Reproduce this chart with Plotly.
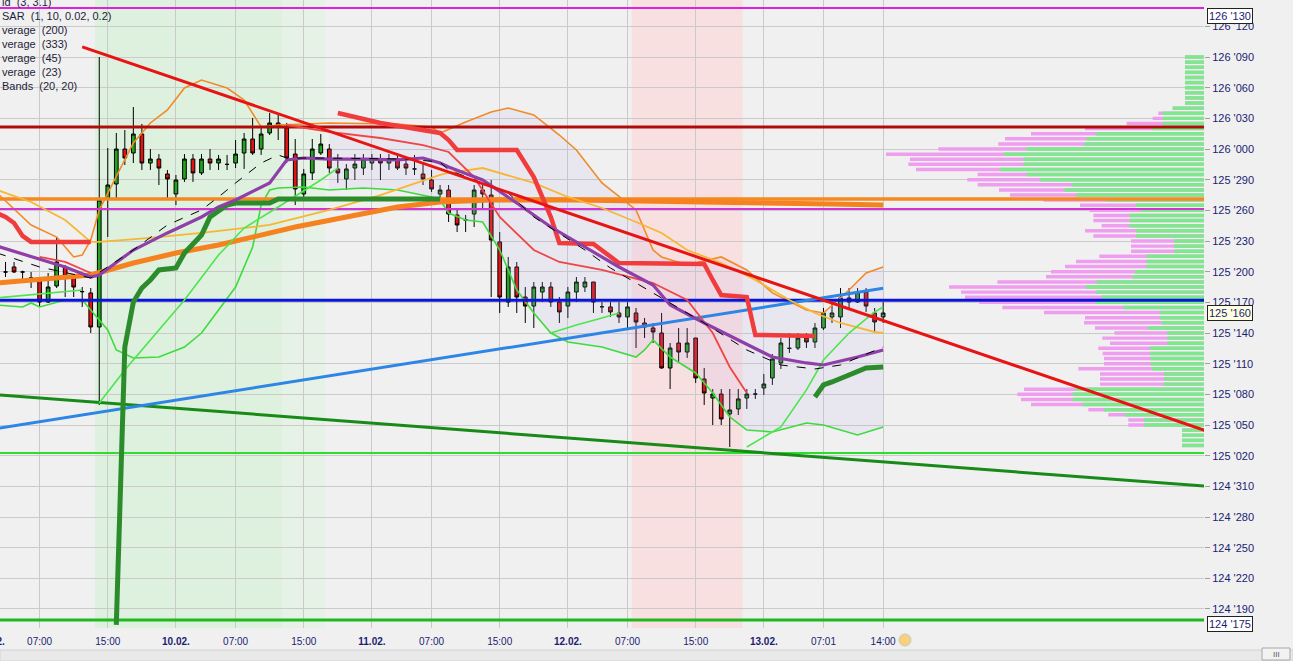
import plotly.graph_objects as go

# ---------------- DATA ----------------
# prices are expressed in 32nds above 124'000  (e.g. 49.0 -> 125'170)
bar = list(range(3, 107))
open_ = [51.97, 52.46, 51.97, 51.4, 51.38, 49.03, 50.60, 52.46, 51.48, 50.05, 49.92, 46.59, 59.11, 60.58,
         64.00, 63.61, 65.47, 62.63, 63.02, 61.56, 59.60, 61.07, 63.02, 61.66, 63.02, 62.63, 62.50, 62.63,
         63.61, 64.98, 64.00, 65.57, 66.55, 66.06, 63.51, 59.60, 61.66, 63.61, 64.00, 62.05, 61.07, 62.14,
         62.14, 62.63, 63.02, 62.63, 63.02, 62.53, 62.05, 61.56, 60.97, 59.60, 59.99, 57.55, 57.06, 57.64,
         59.99, 59.50, 54.91, 49.03, 52.46, 49.52, 48.64, 50.01, 50.50, 49.03, 48.64, 50.01, 50.50, 50.99,
         48.57, 48.55, 47.96, 47.57, 47.96, 46.98, 46.49, 46.00, 42.58, 45.02, 44.14, 45.51, 41.50, 39.64,
         40.03, 38.08, 38.57, 39.64, 40.03, 40.62, 41.60, 43.07, 44.50, 44.53, 45.51, 45.12, 46.49, 47.57,
         47.57, 49.03, 49.03, 50.01, 47.96, 47.57]
high = [52.95, 52.95, 52.10, 51.97, 51.48, 51.87, 55.39, 52.66, 51.68, 50.50, 50.40, 73.00, 64.10, 65.57,
        65.86, 68.11, 66.45, 64.00, 63.51, 61.95, 61.46, 63.51, 63.51, 63.51, 64.00, 63.42, 63.42, 64.88,
        65.57, 67.04, 66.06, 67.53, 67.33, 66.55, 64.98, 62.05, 64.98, 65.47, 64.49, 63.51, 62.53, 63.51,
        63.51, 63.51, 63.51, 63.51, 63.51, 63.02, 63.42, 62.53, 61.95, 60.48, 60.48, 58.04, 57.55, 60.48,
        60.48, 60.97, 55.88, 53.44, 52.95, 50.50, 50.99, 50.99, 50.99, 49.52, 50.50, 51.48, 51.48, 50.99,
        49.03, 49.03, 49.03, 49.03, 48.45, 47.47, 46.98, 47.96, 45.02, 46.49, 46.49, 45.51, 42.58, 40.52,
        40.52, 40.52, 40.52, 40.52, 40.52, 41.99, 43.95, 45.51, 46.00, 46.00, 46.00, 46.98, 48.45, 48.94,
        50.40, 50.40, 50.40, 50.40, 48.45, 49.03]
low = [51.48, 51.87, 50.89, 50.40, 48.55, 48.94, 50.40, 49.52, 49.52, 48.55, 46.00, 38.96, 55.39, 59.01,
       62.44, 62.63, 61.95, 61.95, 60.48, 59.01, 58.52, 60.78, 60.78, 61.46, 61.95, 61.95, 61.95, 62.14,
       62.05, 63.42, 63.42, 65.37, 64.88, 62.63, 58.52, 59.31, 60.97, 63.42, 61.66, 60.68, 59.99, 60.97,
       61.46, 61.95, 60.97, 61.95, 61.95, 61.46, 61.46, 60.48, 59.80, 59.01, 56.86, 55.88, 55.88, 56.37,
       58.04, 49.52, 47.96, 48.55, 47.96, 46.98, 46.49, 49.03, 48.55, 46.98, 47.47, 49.03, 50.01, 47.96,
       47.96, 47.57, 46.98, 46.49, 44.53, 45.51, 45.02, 42.50, 40.52, 43.07, 43.56, 41.11, 38.96, 37.00,
       37.00, 34.85, 37.98, 38.57, 39.55, 39.94, 40.92, 42.48, 44.05, 44.34, 44.53, 44.53, 46.29, 46.98,
       46.49, 48.45, 48.94, 48.06, 46.00, 46.98]
close = [51.97, 51.97, 51.97, 51.4, 49.03, 50.50, 52.95, 51.58, 50.50, 50.05, 46.59, 59.01, 60.48, 64.00,
         63.12, 65.47, 62.63, 63.02, 62.14, 61.07, 60.97, 63.02, 61.66, 63.02, 62.63, 63.02, 62.50, 63.51,
         64.98, 63.61, 65.47, 66.55, 66.16, 63.12, 60.09, 61.56, 64.00, 64.49, 62.14, 61.66, 62.05, 62.53,
         63.02, 63.02, 62.63, 63.02, 62.14, 62.14, 62.05, 61.07, 60.09, 59.99, 57.64, 56.57, 57.06, 59.99,
         59.60, 55.10, 49.52, 52.46, 49.52, 48.64, 50.50, 50.50, 49.03, 48.06, 50.01, 50.99, 50.99, 49.03,
         48.57, 48.06, 47.57, 48.55, 47.08, 46.59, 46.10, 42.58, 44.53, 44.14, 45.02, 41.60, 40.13, 40.03,
         37.59, 38.47, 39.55, 40.03, 40.03, 41.01, 43.46, 45.02, 44.50, 45.51, 45.12, 46.49, 47.96, 47.96,
         49.43, 49.43, 50.01, 48.64, 47.08, 47.96]

# moving averages / bands / stops (bar index, value); None breaks a line
purple_n = [2, 6, 10, 13, 14, 18, 22, 26, 28, 30, 34, 36, 38, 41, 45, 49, 52, 54, 55, 59, 63, 67, 71, 75,
            79, 81, 85, 89, 93, 97, 99, 103, 106]
purple_v = [54.5, 53.44, 52.46, 51.48, 51.68, 54.12, 55.79, 57.35, 58.33, 59.01, 60.68, 62.93, 63.12, 63.02,
            63.02, 62.93, 63.12, 62.63, 62.24, 60.97, 58.72, 56.37, 54.42, 52.46, 50.70, 48.74, 46.98, 45.32,
            43.65, 43.07, 42.87, 43.65, 44.34]
dash_n = [2, 7, 13, 18, 22, 26, 28, 30, 33, 35, 36, 40, 50, 54, 55, 62, 65, 71, 74, 79, 85, 90, 94, 98, 101, 106]
dash_v = [53.83, 52.46, 51.38, 54.12, 56.57, 58.04, 59.31, 60.68, 62.63, 63.42, 63.12, 63.12, 63.02, 62.73,
          61.95, 59.70, 57.35, 54.12, 52.36, 49.92, 46.98, 44.34, 42.87, 42.48, 42.87, 44.63]
gold_n = [2, 6, 10, 13, 14, 20, 26, 34, 41, 47, 54, 55, 59, 61, 65, 69, 73, 77, 80, 83, 87, 91, 95, 98, 101,
          105, 106]
gold_v = [59.99, 58.82, 57.06, 54.91, 54.91, 55.30, 55.79, 56.57, 58.04, 59.50, 61.46, 61.66, 62.14, 61.66,
          60.68, 59.31, 58.23, 56.86, 55.79, 54.12, 52.85, 51.19, 49.23, 47.96, 46.98, 46.10, 46.00]
bbu_n = [2, 6, 9, 11, 12, 13, 14, 16, 18, 20, 22, 24, 26, 29, 31, 33, 35, 41, 49, 53, 54, 57, 60, 62, 65, 68,
         70, 73, 77, 79, 80, 83, 87, 90, 93, 97, 99, 102, 104, 106]
bbu_v = [59.70, 56.57, 55.39, 53.44, 53.63, 55.10, 58.04, 61.26, 64.59, 66.55, 67.82, 69.97, 70.75, 69.97,
         68.80, 66.16, 66.35, 66.55, 66.45, 66.16, 65.57, 66.65, 67.62, 68.01, 67.33, 65.37, 63.91, 60.68,
         58.04, 54.12, 53.44, 52.66, 53.44, 52.17, 49.92, 48.25, 47.96, 50.21, 51.87, 52.46]
bbl_n = [2, 5, 6, 7, 10, 12, 13, 15, 16, 18, 21, 24, 26, 28, 30, 32, 33, 34, 35, 38, 41, 45, 49, 53, 54, 55,
         57, 59, 61, 63, 65, 67, 69, 73, 77, 78, 79, 81, 84, 86, 88, 90, 93, 97, 99, 103, 106]
bbl_v = [48.74, 48.55, 48.94, 48.55, 49.23, 49.23, 48.25, 46.29, 44.34, 43.56, 43.65, 44.63, 46.00, 48.25,
         50.50, 54.42, 58.52, 59.99, 60.19, 60.29, 59.99, 60.19, 59.99, 59.31, 59.01, 57.74, 57.06, 56.86,
         54.12, 50.21, 47.96, 46.00, 45.12, 44.63, 43.65, 44.34, 45.32, 43.65, 42.09, 40.13, 37.79, 36.51,
         36.32, 37.20, 37.00, 36.02, 36.81]
band_fill_from = 41      # the band tint is visible from this bar on
sarg_n = [2, 6, 10, 12, None, 14, 17, 21, 24, 28, 31, 35, 40, 42, None, 67, 70, 73, 75, None,
          90, 94, 97, 99, 102, 105, 106]
sarg_v = [49.43, 49.72, 50.01, 50.21, None, 39.16, 42.38, 46.29, 49.23, 53.63, 56.27, 58.33, 60.97, 62.14, None,
          46.00, 46.79, 47.47, 47.96, None, 34.85, 36.81, 40.43, 43.36, 46.00, 48.06, 48.55]
red_n = [7, 10, 13, None, 36, 41, 47, 52, 55, 58, 61, 65, 68, 73, 79, 83, 86, 88, 90]
red_v = [53.44, 52.95, 51.87, None, 66.35, 65.67, 65.08, 64.39, 63.71, 61.26, 57.35, 54.12, 52.95, 52.17,
         50.89, 49.23, 46.00, 42.68, 40.13]
stop_n = [2, 3, 4, 5, 6, 13, None, 42, 47, 54, 55, 56, 63, 65, 66, 67, 68, 72, 75, 85, 86, 87, 90, 91, 98]
stop_v = [57.74, 57.35, 56.76, 55.5, 54.91, 54.91, None, 67.53, 66.55, 65.57, 64.88, 63.91, 63.91, 61.26,
          59.31, 57.35, 54.81, 54.71, 52.85, 52.75, 51.19, 49.72, 49.52, 45.81, 45.71]
dgs_n = [16, 17, 18, 19, 20, 21, 23, 24, 26, 27, 29, 30, 34, 35, 54, None, 98, 99, 100, 101, 102, 104, 105, 106]
dgs_v = [17.44, 44.62, 49.03, 50.40, 51.19, 52.17, 52.36, 53.83, 55.59, 57.35, 58.52, 58.72, 58.72, 59.11,
         59.11, None, 39.74, 40.92, 41.21, 41.60, 41.89, 42.58, 42.68, 42.68]
ma_n = [2, 13, 18, 23, 28, 33, 37, 43, 49, 54, 60, 70, 80, 90, 100, 106]
ma_v = [50.89, 51.68, 52.85, 53.83, 54.61, 55.59, 56.37, 57.35, 58.33, 58.82, 59.01, 59.01, 58.91, 58.82,
        58.62, 58.52]

# straight trend lines (bar index, value)
trend_red_n, trend_red_v = [12, 144], [74.0, 36.4]
trend_dg_n, trend_dg_v = [2, 144], [39.96, 31.0]
trend_blue_n, trend_blue_v = [2, 106], [36.66, 50.37]

# horizontal levels
hl_vals = [77.8, 66.15, 59.11, 58.13, 49.2, 34.26, 17.93]
hl_cols = ['#E020E0', '#B00C0C', '#F5881E', '#D433D4', '#0A14D8', '#2EDD2E', '#1FB81F']
hl_wids = [2, 3, 3.5, 2, 3, 2, 3]

# session shading (first bar, last bar)
zones = [(14, 35, 'rgba(222,240,222,1)'), (36, 40, 'rgba(230,242,230,1)'), (77, 89, 'rgba(248,224,224,1)')]

# volume profile rows (price in 32nds above 124'000), volumes
prof_price = [73.0, 72.5, 72.0, 71.5, 71.0, 70.5, 70.0, 69.5, 69.0, 68.5, 68.0, 67.5, 67.0, 66.5, 66.0,
              65.5, 65.0, 64.5, 64.0, 63.5, 63.0, 62.5, 62.0, 61.5, 61.0, 60.5, 60.0, 59.5, 59.0, 58.5,
              58.0, 57.5, 57.0, 56.5, 56.0, 55.5, 55.0, 54.5, 54.0, 53.5, 53.0, 52.5, 52.0, 51.5, 51.0,
              50.5, 50.0, 49.5, 49.0, 48.5, 48.0, 47.5, 47.0, 46.5, 46.0, 45.5, 45.0, 44.5, 44.0, 43.5,
              43.0, 42.5, 42.0, 41.5, 41.0, 40.5, 40.0, 39.5, 39.0, 38.5, 38.0, 37.5, 37.0, 36.5, 36.0,
              35.5, 35.0]
prof_green = [57, 57, 57, 57, 57, 57, 57, 57, 57, 57, 94, 124, 124, 124, 157, 324, 352, 360, 534, 600, 542,
              542, 612, 532, 492, 397, 419, 382, 292, 204, 192, 224, 222, 224, 204, 204, 90, 90, 90, 172,
              172, 174, 207, 214, 322, 354, 324, 307, 327, 242, 132, 132, 127, 167, 110, 110, 110, 162, 162,
              160, 160, 157, 120, 120, 120, 387, 394, 394, 364, 300, 237, 180, 180, 66, 66, 66, 66]
prof_total = [57, 57, 57, 57, 57, 57, 57, 57, 57, 57, 94, 137, 154, 232, 357, 519, 597, 617, 797, 954, 882,
              887, 864, 679, 710, 679, 615, 582, 482, 372, 344, 332, 332, 307, 357, 332, 219, 219, 219, 314,
              384, 417, 459, 474, 620, 765, 729, 717, 675, 605, 480, 357, 360, 327, 269, 305, 282, 317, 304,
              300, 300, 377, 312, 312, 312, 540, 560, 549, 519, 347, 287, 227, 227, 66, 66, 66, 66]

# axis ticks
x_tickvals = [7, 15, 23, 30, 38, 46, 53, 61, 69, 76, 84, 92, 99, 106]
x_ticktext = ['07:00', '15:00', '<b>10.02.</b>', '07:00', '15:00', '<b>11.02.</b>', '07:00', '15:00',
              '<b>12.02.</b>', '07:00', '15:00', '<b>13.02.</b>', '07:01', '14:00']
y_tickvals = [19, 22, 25, 28, 31, 34, 37, 40, 43, 46, 49, 52, 55, 58, 61, 64, 67, 70, 73, 76]
legend_texts = ['ld\u00a0 (3, 3.1)', 'SAR\u00a0 (1, 10, 0.02, 0.2)', 'verage\u00a0 (200)', 'verage\u00a0 (333)',
                'verage\u00a0 (45)', 'verage\u00a0 (23)', 'Bands\u00a0 (20, 20)']
last_price, top_price, bottom_price = 48.0, 77.0, 17.5


def fmt(v):
    h = 124 + int(v // 32)
    r = v - 32 * int(v // 32)
    t = int(r)
    d = int(round((r - t) * 10))
    return f"{h} '{t:02d}{d}"


# ---------------- FIGURE ----------------
W, H = 1293, 661
PL, PR, PT, PB = 0, 1204, 0, 628       # plot area in pixels
XR = [2.35, 143.66]
YR = [17.14, 78.58]
NAVY = '#1C1C70'
FONT = 'Liberation Sans, Arial, sans-serif'

fig = go.Figure()

# volume profile (base axis x, reversed)
fig.add_trace(go.Bar(y=prof_price, x=prof_total, orientation='h', width=0.34, xaxis='x', yaxis='y',
                     marker=dict(color='#EF9DEF', line=dict(width=0)), hoverinfo='skip', showlegend=False))
fig.add_trace(go.Bar(y=prof_price, x=prof_green, orientation='h', width=0.34, xaxis='x', yaxis='y',
                     marker=dict(color='#7EE98C', line=dict(width=0)), hoverinfo='skip', showlegend=False))


def line(xs, ys, color, width, dash=None, fill=None, fillcolor=None):
    fig.add_trace(go.Scatter(x=xs, y=ys, mode='lines', xaxis='x2', yaxis='y',
                             line=dict(color=color, width=width, dash=dash),
                             fill=fill, fillcolor=fillcolor, connectgaps=False,
                             hoverinfo='skip', showlegend=False))


# Bollinger band tint (right part only)
up_sel = [(n, v) for n, v in zip(bbu_n, bbu_v) if n >= band_fill_from]
lo_sel = [(n, v) for n, v in zip(bbl_n, bbl_v) if n >= band_fill_from]
line([a for a, _ in up_sel], [b for _, b in up_sel], 'rgba(0,0,0,0)', 0)
line([a for a, _ in lo_sel], [b for _, b in lo_sel], 'rgba(0,0,0,0)', 0, fill='tonexty',
     fillcolor='rgba(185,170,235,0.14)')
# bands
line(bbu_n, bbu_v, '#F28A26', 1.6)
line(bbl_n, bbl_v, '#3EDB3E', 1.6)

# horizontal levels
for v, c, w in zip(hl_vals, hl_cols, hl_wids):
    line([XR[0], XR[1]], [v, v], c, w)

# trend lines and indicators
line(trend_dg_n, trend_dg_v, '#178A17', 3)
line(trend_blue_n, trend_blue_v, '#2D86E6', 3)
line(ma_n, ma_v, '#F5821E', 5)
line(gold_n, gold_v, '#F7B733', 1.8)
line(sarg_n, sarg_v, '#4BE64B', 1.6)
line(dgs_n, dgs_v, '#2C8C2C', 5)
line(red_n, red_v, '#F04545', 1.8)
line(stop_n, stop_v, '#F03C3C', 4.5)
line(purple_n, purple_v, '#8E3FA8', 3.2)
line(dash_n, dash_v, '#000000', 1, dash='dash')
line(trend_red_n, trend_red_v, '#E81414', 3)

# candles
fig.add_trace(go.Candlestick(x=bar, open=open_, high=high, low=low, close=close, xaxis='x2', yaxis='y',
                             increasing=dict(line=dict(color='#000000', width=1), fillcolor='#22A322'),
                             decreasing=dict(line=dict(color='#000000', width=1), fillcolor='#E01414'),
                             whiskerwidth=0, hoverinfo='skip', showlegend=False))

shapes = []
for a, b, col in zones:
    shapes.append(dict(type='rect', xref='x2', yref='paper', x0=a - 0.5, x1=b + 0.5, y0=0, y1=1,
                       fillcolor=col, line=dict(width=0), layer='below'))
# bottom scroll strip
px = lambda X: (X - PL) / (PR - PL)
py = lambda Y: (PB - Y) / (PB - PT)
shapes.append(dict(type='rect', xref='paper', yref='paper', x0=px(0), x1=px(W), y0=py(661), y1=py(650),
                   fillcolor='#E9E9E9', line=dict(color='#D2D2D2', width=1), layer='below'))
shapes.append(dict(type='rect', xref='paper', yref='paper', x0=px(1262), x1=px(1290), y0=py(660), y1=py(648),
                   fillcolor='#F2F2F2', line=dict(color='#A8A8A8', width=1)))
shapes.append(dict(type='circle', xref='paper', yref='paper', x0=px(899), x1=px(911), y0=py(646), y1=py(634),
                   fillcolor='#F7D27A', line=dict(color='#C8C8C8', width=1)))

annotations = []
for i, t in enumerate(legend_texts):
    annotations.append(dict(text=t, xref='paper', yref='paper', x=0, y=py(2 + 14 * i), xanchor='left',
                            yanchor='middle', showarrow=False, font=dict(family=FONT, size=11, color='#1E1E3A')))
for val, bg in [(last_price, '#FFFFE1'), (top_price, '#FFFFFF'), (bottom_price, '#FFFFFF')]:
    annotations.append(dict(text=fmt(val), xref='paper', yref='y', x=1, y=val, xanchor='left', xshift=3,
                            yanchor='middle', showarrow=False, bgcolor=bg, bordercolor='#222222',
                            borderwidth=1, borderpad=1, font=dict(family=FONT, size=11, color=NAVY)))
annotations.append(dict(text='<b>09.02.</b>', xref='paper', yref='paper', x=0, y=py(641), xanchor='right',
                        xshift=7, yanchor='middle', showarrow=False, font=dict(family=FONT, size=10, color=NAVY)))
annotations.append(dict(text='III', xref='paper', yref='paper', x=px(1276), y=py(654), xanchor='center',
                        yanchor='middle', showarrow=False, font=dict(family=FONT, size=8, color='#555555')))

fig.update_layout(
    width=W, height=H, autosize=False,
    margin=dict(l=PL, r=W - PR, t=PT, b=H - PB, pad=0),
    paper_bgcolor='#F0F0F0', plot_bgcolor='#F0F0F0',
    barmode='overlay', boxgap=0.38, showlegend=False,
    xaxis=dict(range=[3 * (PR - PL), 0], showgrid=False, zeroline=False, showticklabels=False,
               showline=False, ticks='', automargin=False, fixedrange=True),
    xaxis2=dict(overlaying='x', anchor='y', side='bottom', range=XR, showgrid=True, gridcolor='#CACACA',
                gridwidth=1, zeroline=False, tickvals=x_tickvals, ticktext=x_ticktext, ticks='',
                ticklabelstandoff=6,
                tickfont=dict(family=FONT, size=10, color=NAVY), showline=False, automargin=False,
                rangeslider=dict(visible=False)),
    yaxis=dict(side='right', anchor='x', range=YR, showgrid=True, gridcolor='#CACACA', gridwidth=1,
               zeroline=False, tickvals=y_tickvals, ticktext=[fmt(v) for v in y_tickvals],
               ticks='outside', ticklen=5, tickcolor='#A0A0A0',
               tickfont=dict(family=FONT, size=11, color=NAVY), showline=False, automargin=False),
    shapes=shapes, annotations=annotations,
)

fig.write_html('out.html', config={'displayModeBar': False},
               post_script="document.body.style.margin='0px';document.body.style.overflow='hidden';"
                           "document.body.style.background='#F0F0F0';")
